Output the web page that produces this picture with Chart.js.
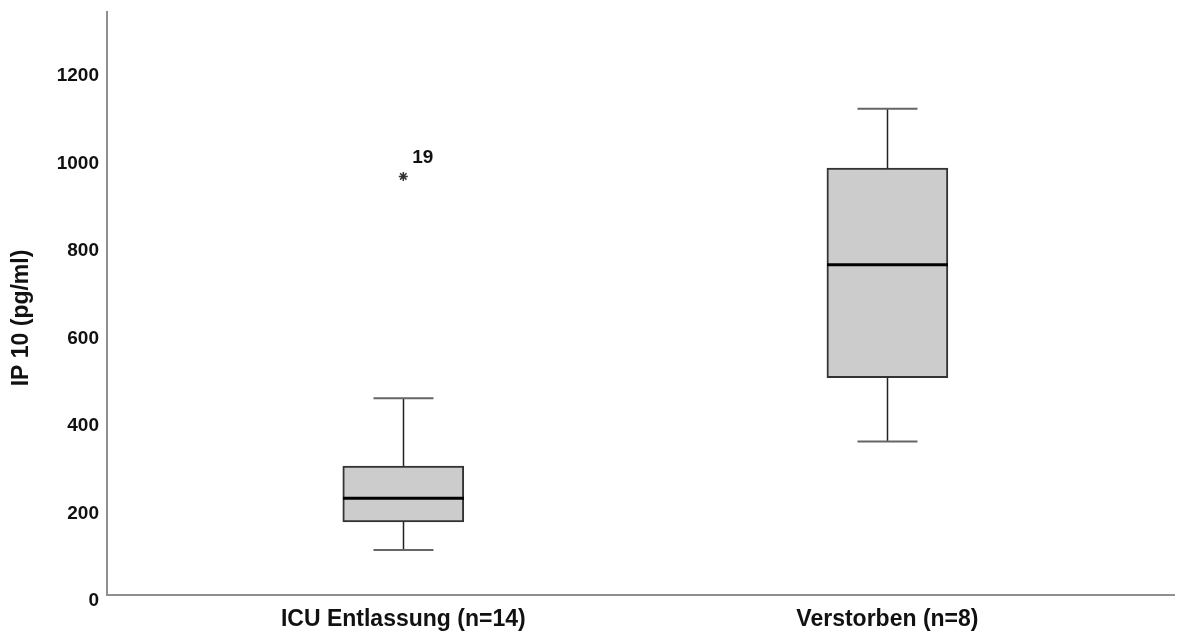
<!DOCTYPE html>
<html>
<head>
<meta charset="utf-8">
<script src="https://cdn.jsdelivr.net/npm/chart.js@4"></script>
<style>
  body { margin: 0; background: #fff; }
  #wrap { width: 1180px; height: 633px; position: relative; }
</style>
</head>
<body>
<div id="wrap"><canvas id="myChart"></canvas></div>
<script>
// boxplot values
const groups = ["ICU Entlassung (n=14)", "Verstorben (n=8)"];
const groupPos = [1, 2];
const lowWhisker = [103, 351];
const q1 = [167, 497];
const median = [221, 755];
const q3 = [295, 976];
const highWhisker = [450, 1112];

// extreme values (asterisk) with case number
const outlierGroup = [1];
const outlierValue = [957];
const outlierCase = ["19"];

const yTicks = [0, 200, 400, 600, 800, 1000, 1200];

const FONT = "'Liberation Sans', Arial, sans-serif";

const boxData = groupPos.map((x, i) => ({ x: x, y: [q1[i], q3[i]] }));
const outlierData = outlierGroup.map((x, i) => ({ x: x, y: outlierValue[i], label: outlierCase[i] }));

// whiskers, medians, case labels and y title
const boxExtras = {
  id: "boxExtras",
  afterDatasetsDraw(chart) {
    const { ctx, scales } = chart;
    const xs = scales.x, ys = scales.y;
    const capHalf = 30;
    const boxHalf = 60.5;
    ctx.save();
    groupPos.forEach((g, i) => {
      const x = Math.round(xs.getPixelForValue(g)) + 0.5;
      ctx.strokeStyle = "#222";
      ctx.lineWidth = 1.5;
      ctx.beginPath();
      ctx.moveTo(x, ys.getPixelForValue(q3[i]));
      ctx.lineTo(x, ys.getPixelForValue(highWhisker[i]));
      ctx.moveTo(x, ys.getPixelForValue(q1[i]));
      ctx.lineTo(x, ys.getPixelForValue(lowWhisker[i]));
      ctx.stroke();
      ctx.strokeStyle = "#666";
      ctx.lineWidth = 2;
      ctx.beginPath();
      ctx.moveTo(x - capHalf, ys.getPixelForValue(highWhisker[i]));
      ctx.lineTo(x + capHalf, ys.getPixelForValue(highWhisker[i]));
      ctx.moveTo(x - capHalf, ys.getPixelForValue(lowWhisker[i]));
      ctx.lineTo(x + capHalf, ys.getPixelForValue(lowWhisker[i]));
      ctx.stroke();
      ctx.strokeStyle = "#000";
      ctx.lineWidth = 3;
      ctx.beginPath();
      ctx.moveTo(x - boxHalf, ys.getPixelForValue(median[i]));
      ctx.lineTo(x + boxHalf, ys.getPixelForValue(median[i]));
      ctx.stroke();
    });

    ctx.fillStyle = "#111";
    ctx.font = "bold 19px " + FONT;
    ctx.textAlign = "left";
    ctx.textBaseline = "middle";
    outlierData.forEach((p) => {
      const x = xs.getPixelForValue(p.x);
      const y = ys.getPixelForValue(p.y);
      ctx.fillText(p.label, x + 9, y - 19);
    });

    ctx.font = "bold 23px " + FONT;
    ctx.textAlign = "center";
    ctx.translate(22, 318);
    ctx.rotate(-Math.PI / 2);
    ctx.fillText("IP 10 (pg/ml)", 0, 0);
    ctx.restore();
  },
};

const ctx = document.getElementById("myChart").getContext("2d");
const myChart = new Chart(ctx, {
  type: "bar",
  data: {
    datasets: [
      {
        type: "bar",
        data: boxData,
        backgroundColor: "#cccccc",
        borderColor: "#333",
        borderWidth: 2,
        borderSkipped: false,
        barThickness: 121,
        order: 2,
      },
      {
        type: "scatter",
        data: outlierData,
        pointStyle: "star",
        radius: 4.5,
        borderColor: "#333",
        borderWidth: 1.5,
        order: 1,
      },
    ],
  },
  options: {
    responsive: true,
    maintainAspectRatio: false,
    animation: false,
    layout: { padding: { top: 12, right: 2, left: 0, bottom: 0 } },
    plugins: {
      legend: { display: false },
      tooltip: { enabled: false },
    },
    scales: {
      x: {
        type: "linear",
        min: 0.388,
        max: 2.592,
        offset: false,
        afterBuildTicks: (scale) => {
          scale.ticks = groupPos.map((v) => ({ value: v }));
        },
        afterFit: (scale) => {
          scale.height = 38;
          scale.paddingLeft = 0;
          scale.paddingRight = 0;
        },
        grid: { display: false, drawTicks: false, offset: false },
        border: { display: true, color: "#8f8f8f", width: 2 },
        ticks: {
          padding: 11,
          color: "#111",
          font: { family: FONT, size: 23, weight: "bold" },
          callback: (v) => groups[groupPos.indexOf(v)],
        },
      },
      y: {
        min: 0,
        max: 1333,
        afterBuildTicks: (scale) => {
          scale.ticks = yTicks.map((v) => ({ value: v }));
        },
        afterFit: (scale) => {
          scale.width = 107;
          scale.paddingTop = 0;
          scale.paddingBottom = 0;
        },
        grid: { display: false, drawTicks: false },
        border: { display: true, color: "#8f8f8f", width: 2 },
        ticks: {
          padding: 8,
          labelOffset: 6,
          color: "#111",
          font: { family: FONT, size: 19, weight: "bold" },
          callback: (v) => String(v),
        },
      },
    },
  },
  plugins: [boxExtras],
});
</script>
</body>
</html>
